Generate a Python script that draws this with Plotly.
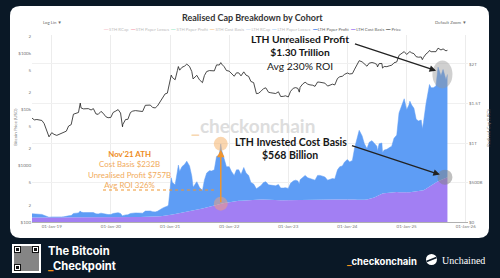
import plotly.graph_objects as go

# ---------------- data ----------------
dates = [
    "2018-09-01", "2018-09-15", "2018-10-01", "2018-10-15", "2018-11-01", "2018-11-15", "2018-12-01", "2018-12-15",
    "2019-01-01", "2019-01-15", "2019-02-01", "2019-02-15", "2019-03-01", "2019-03-15", "2019-04-01", "2019-04-15",
    "2019-05-01", "2019-05-15", "2019-06-01", "2019-06-15", "2019-06-26", "2019-07-01", "2019-07-15", "2019-08-01",
    "2019-08-15", "2019-09-01", "2019-09-15", "2019-10-01", "2019-10-15", "2019-11-01", "2019-11-15", "2019-12-01", "2019-12-15",
    "2020-01-01", "2020-01-15", "2020-02-01", "2020-02-15", "2020-03-01", "2020-03-13", "2020-03-15", "2020-04-01",
    "2020-04-15", "2020-05-01", "2020-05-15", "2020-06-01", "2020-06-15", "2020-07-01", "2020-07-15", "2020-08-01",
    "2020-08-15", "2020-09-01", "2020-09-15", "2020-10-01", "2020-10-15", "2020-11-01", "2020-11-15", "2020-12-01",
    "2020-12-15", "2020-12-22",
    "2021-01-01", "2021-01-08", "2021-01-15", "2021-02-01", "2021-02-15", "2021-02-21", "2021-03-01", "2021-03-15",
    "2021-04-01", "2021-04-14", "2021-05-01", "2021-05-15", "2021-05-23", "2021-06-01", "2021-06-15", "2021-07-01",
    "2021-07-20", "2021-08-01", "2021-08-15", "2021-09-01", "2021-09-15", "2021-10-01", "2021-10-15", "2021-11-01",
    "2021-11-10", "2021-11-15", "2021-12-01", "2021-12-15",
    "2022-01-01", "2022-01-15", "2022-02-01", "2022-02-15", "2022-03-01", "2022-03-15", "2022-04-01", "2022-04-15",
    "2022-05-01", "2022-05-15", "2022-06-01", "2022-06-18", "2022-07-01", "2022-07-15", "2022-08-01", "2022-08-15",
    "2022-09-01", "2022-09-15", "2022-10-01", "2022-10-15", "2022-11-01", "2022-11-15", "2022-12-01", "2022-12-15",
    "2023-01-01", "2023-01-15", "2023-02-01", "2023-02-15", "2023-03-01", "2023-03-10", "2023-03-15", "2023-04-01",
    "2023-04-15", "2023-05-01", "2023-05-15", "2023-06-01", "2023-06-15", "2023-07-01", "2023-07-15", "2023-08-01",
    "2023-08-15", "2023-09-01", "2023-09-15", "2023-10-01", "2023-10-15", "2023-11-01", "2023-11-15", "2023-12-01", "2023-12-15",
    "2024-01-01", "2024-01-15", "2024-02-01", "2024-02-15", "2024-03-01", "2024-03-14", "2024-04-01", "2024-04-15",
    "2024-05-01", "2024-05-15", "2024-06-01", "2024-06-15", "2024-07-01", "2024-07-05", "2024-07-15", "2024-08-01",
    "2024-08-05", "2024-08-15", "2024-09-01", "2024-09-15", "2024-10-01", "2024-10-15", "2024-11-01", "2024-11-15",
    "2024-12-01", "2024-12-17",
    "2025-01-01", "2025-01-15", "2025-01-21", "2025-02-01", "2025-02-15", "2025-03-01", "2025-03-15", "2025-04-01",
    "2025-04-08", "2025-04-15", "2025-05-01", "2025-05-15", "2025-05-22", "2025-06-01", "2025-06-15", "2025-07-01",
    "2025-07-14", "2025-08-01", "2025-08-14", "2025-09-01", "2025-09-10",
]

btc_price = [
    7000, 6500, 6600, 6400, 6350, 5600, 4100, 3250,
    3850, 3600, 3450, 3600, 3820, 3900, 4100, 5050, 5350, 8200, 8550, 8800, 12900, 10600, 10200, 10400, 10300, 9750,
    10300, 8300, 8150, 9200, 8500, 7400, 7100,
    7200, 8800, 9350, 9900, 8600, 4900, 5400, 6600, 6650, 8800, 9300, 9500, 9450, 9200, 9150, 11800, 11900, 11900,
    10800, 10600, 11500, 13750, 15950, 18800, 19400, 23800,
    29400, 40500, 36800, 33500, 48700, 57500, 49600, 55600, 58700, 63500, 57800, 46800, 34700, 36700, 40200, 33500,
    29800, 39900, 47000, 48800, 48100, 48200, 61600, 61300, 67500, 63800, 57200, 48900,
    47700, 43100, 38700, 44500, 44400, 39300, 46300, 40500, 38500, 31300, 29800, 19000, 19300, 20800, 23300, 24100,
    20100, 19700, 19300, 19100, 20500, 16900, 17000, 17400,
    16600, 20900, 23700, 24300, 23600, 20200, 24700, 28400, 30300, 28000, 27200, 26800, 25600, 30600, 30300, 29700,
    29200, 25900, 26600, 28000, 27100, 35400, 37900, 38700, 41900,
    44200, 42500, 43100, 51800, 62400, 73100, 69700, 63400, 58300, 66200, 67800, 66200, 62700, 56700, 64800, 65300,
    54000, 57600, 57300, 59100, 60800, 67000, 69500, 91000, 97300, 106000,
    94400, 100500, 106000, 100700, 97500, 86000, 84300, 85200, 76300, 83600, 96500, 103700, 111000, 105600, 105500,
    105700, 122000, 113300, 118300, 109200, 112000,
]

# LTH cost basis + LTH paper profit (top of the blue area), USD billions
lth_total_b = [
    105, 100, 100, 98, 96, 85, 68, 60,
    64, 62, 61, 62, 64, 65, 67, 78, 82, 108, 112, 115, 140, 125, 120, 122, 120, 117, 120, 103, 102, 112, 106, 97, 94,
    95, 108, 113, 118, 108, 75, 80, 90, 91, 108, 113, 115, 114, 112, 112, 138, 140, 140, 130, 128, 136, 160, 175, 190,
    200, 215,
    430, 560, 500, 470, 640, 720, 640, 700, 730, 770, 710, 580, 440, 470, 510, 440, 400, 530, 620, 650, 645, 660, 830,
    850, 989, 910, 810, 700,
    700, 640, 590, 660, 660, 600, 690, 620, 590, 500, 480, 420, 440, 460, 500, 510, 470, 465, 460, 458, 475, 430, 430, 435,
    425, 490, 520, 530, 520, 480, 535, 560, 590, 560, 550, 545, 530, 590, 590, 580, 570, 530, 540, 550, 545, 660, 700,
    710, 760,
    790, 760, 780, 940, 1080, 1160, 1090, 990, 930, 1010, 1030, 1000, 960, 900, 990, 1000, 880, 910, 920, 940, 960,
    1060, 1100, 1380, 1480, 1560,
    1420, 1480, 1530, 1480, 1440, 1300, 1280, 1290, 1180, 1260, 1500, 1640, 1740, 1700, 1700, 1720, 1960, 1850, 1930,
    1800, 1868,
]

# LTH cost basis (purple area), USD billions
lth_cost_basis_b = [
    56, 56, 55, 55, 55, 55, 54, 54,
    54, 54, 54, 54, 54, 54, 54, 54, 54, 55, 55, 55, 56, 56, 56, 57, 57, 57, 57, 57, 57, 58, 58, 58, 58,
    58, 59, 59, 60, 60, 60, 60, 61, 61, 62, 62, 63, 63, 64, 64, 65, 66, 67, 67, 68, 69, 72, 75, 78, 82, 85,
    90, 92, 95, 100, 105, 108, 110, 115, 122, 128, 135, 142, 145, 150, 155, 163, 170, 178, 186, 195, 200, 208, 215,
    225, 232, 235, 240, 245,
    252, 258, 262, 265, 268, 270, 273, 276, 278, 280, 282, 283, 284, 285, 285, 285, 284, 284, 283, 283, 282, 276, 275, 275,
    275, 276, 277, 277, 278, 278, 278, 279, 280, 280, 280, 280, 280, 281, 281, 282, 282, 282, 283, 283, 284, 285, 286,
    287, 288,
    290, 288, 286, 284, 282, 280, 280, 282, 285, 290, 300, 310, 325, 330, 340, 355, 360, 365, 370, 372, 375, 378, 380,
    378, 375, 372,
    372, 375, 378, 380, 383, 386, 390, 395, 398, 402, 420, 440, 450, 465, 480, 500, 515, 530, 545, 555, 568,
]

assert len(dates) == len(btc_price) == len(lth_total_b) == len(lth_cost_basis_b)
lth_paper_profit_b = [t - c for t, c in zip(lth_total_b, lth_cost_basis_b)]
ath_date = "2021-11-10"
i_ath = dates.index(ath_date)

price_tick_vals = [100, 200, 500, 1000, 2000, 5000, 10000, 20000, 50000, 100000, 200000]
price_tick_text = ["$100", "2", "5", "$1000", "2", "5", "$10k", "2", "5", "$100k", "2"]
rcap_tick_vals = [0, 500, 1000, 1500, 2000]
rcap_tick_text = ["$0", "$500B", "$1T", "$1.5T", "$2T"]

legend_names = ["STH RCap", "STH Paper Losses", "STH Paper Profit", "STH Cost Basis", "LTH RCap",
                "LTH Paper Losses", "LTH Paper Profit", "LTH Cost Basis", "Price"]
legend_colors = ["#f7b3c2", "#f27a93", "#7fe3b8", "#f6b25a", "#b9d6f6",
                 "#8fc0f5", "#3f7ff0", "#9c6ff2", "#555555"]
legend_active = [False, False, False, False, False, False, True, True, True]

# ---------------- styling ----------------
BG = "#0a1826"
BLUE = "#5e9df5"
PURPLE = "#a27ff3"
ORANGE = "#f0952e"
FONT = "Lato, 'Open Sans', sans-serif"

L, R, T, B = 32, 468, 35, 222


def px(X):
    return (X - L) / (R - L)


def py(Y):
    return (B - Y) / (B - T)


def rounded_rect(x0, y0, x1, y1, r):
    pts = [
        ("M", [(x0 + r, y0)]), ("L", [(x1 - r, y0)]), ("Q", [(x1, y0), (x1, y0 + r)]),
        ("L", [(x1, y1 - r)]), ("Q", [(x1, y1), (x1 - r, y1)]), ("L", [(x0 + r, y1)]),
        ("Q", [(x0, y1), (x0, y1 - r)]), ("L", [(x0, y0 + r)]), ("Q", [(x0, y0), (x0 + r, y0)]),
    ]
    s = ""
    for cmd, ps in pts:
        s += cmd + " " + " ".join(f"{px(a):.5f},{py(b):.5f}" for a, b in ps) + " "
    return s + "Z"


fig = go.Figure()
fig.add_trace(go.Scatter(
    x=dates, y=lth_cost_basis_b, name="LTH Cost Basis", yaxis="y2", stackgroup="lth",
    mode="lines", line=dict(width=0, color=PURPLE), fillcolor=PURPLE,
))
fig.add_trace(go.Scatter(
    x=dates, y=lth_paper_profit_b, name="LTH Paper Profit", yaxis="y2", stackgroup="lth",
    mode="lines", line=dict(width=0.5, color=BLUE), fillcolor=BLUE,
))
fig.add_trace(go.Scatter(
    x=dates, y=btc_price, name="Price", yaxis="y", mode="lines",
    line=dict(color="#1c1c1c", width=0.8),
))

shapes = []
# card
shapes.append(dict(type="path", xref="paper", yref="paper", path=rounded_rect(10, 6, 489, 238, 10),
                   fillcolor="white", line=dict(width=0), layer="below"))
# highlight circles
shapes.append(dict(type="circle", xref="x", yref="y2", xsizemode="pixel", ysizemode="pixel",
                   xanchor=dates[-1], yanchor=lth_total_b[-1], x0=-15, x1=5, y0=-14, y1=14,
                   fillcolor="rgba(150,150,150,0.45)", line=dict(width=0), layer="above"))
shapes.append(dict(type="circle", xref="x", yref="y2", xsizemode="pixel", ysizemode="pixel",
                   xanchor=dates[-1], yanchor=lth_cost_basis_b[-1], x0=-10, x1=5, y0=-7.5, y1=7.5,
                   fillcolor="rgba(130,130,130,0.5)", line=dict(width=0), layer="above"))
shapes.append(dict(type="circle", xref="x", yref="y2", xsizemode="pixel", ysizemode="pixel",
                   xanchor=ath_date, yanchor=lth_total_b[i_ath], x0=-7, x1=7, y0=-7, y1=7,
                   fillcolor="rgba(246,180,110,0.55)", line=dict(width=0), layer="above"))
shapes.append(dict(type="circle", xref="x", yref="y2", xsizemode="pixel", ysizemode="pixel",
                   xanchor=ath_date, yanchor=lth_cost_basis_b[i_ath], x0=-7, x1=7, y0=-7, y1=7,
                   fillcolor="rgba(246,160,120,0.5)", line=dict(width=0), layer="above"))
# orange dotted connector
shapes.append(dict(type="line", xref="paper", yref="paper", x0=px(103), x1=px(217), y0=py(190), y1=py(190),
                   line=dict(color=ORANGE, width=1, dash="dot"), layer="above"))
# QR code block
shapes.append(dict(type="rect", xref="paper", yref="paper", x0=px(12), x1=px(41), y0=py(273), y1=py(244),
                   fillcolor="white", line=dict(width=0)))
shapes.append(dict(type="rect", xref="paper", yref="paper", x0=px(14), x1=px(39), y0=py(271), y1=py(246),
                   fillcolor="#858585", line=dict(width=0)))
for qx, qy in [(14, 246), (32, 246), (14, 264)]:
    shapes.append(dict(type="rect", xref="paper", yref="paper", x0=px(qx), x1=px(qx + 7), y0=py(qy + 7), y1=py(qy),
                       fillcolor="#111", line=dict(width=0)))
    shapes.append(dict(type="rect", xref="paper", yref="paper", x0=px(qx + 1), x1=px(qx + 6), y0=py(qy + 6), y1=py(qy + 1),
                       fillcolor="white", line=dict(width=0)))
    shapes.append(dict(type="rect", xref="paper", yref="paper", x0=px(qx + 2), x1=px(qx + 5), y0=py(qy + 5), y1=py(qy + 2),
                       fillcolor="#111", line=dict(width=0)))
# Unchained icon
shapes.append(dict(type="circle", xref="paper", yref="paper", x0=px(426), x1=px(437), y0=py(265), y1=py(254),
                   fillcolor="white", line=dict(width=0)))
shapes.append(dict(type="line", xref="paper", yref="paper", x0=px(426.5), x1=px(436.5), y0=py(261.5), y1=py(257.5),
                   line=dict(color=BG, width=1.6)))

ann = []


def text(X, Y, s, size, color, bold=False, xanchor="center", family=FONT, angle=0, align="center"):
    ann.append(dict(xref="paper", yref="paper", x=px(X), y=py(Y), text=f"<b>{s}</b>" if bold else s,
                    showarrow=False, xanchor=xanchor, yanchor="middle", textangle=angle, align=align,
                    font=dict(size=size, color=color, family=family)))


# title & controls
text(252, 17, "Realised Cap Breakdown by Cohort", 9, "#333333", bold=True)
text(41, 23, "Log Lin \u25BC", 4.3, "#666666", xanchor="left")
text(468, 23, "Default Zoom \u25BC", 4.3, "#666666", xanchor="right")

# legend built from legend arrays
parts = []
for n, c, a in zip(legend_names, legend_colors, legend_active):
    tc = "#666666" if a else "#bdbdbd"
    op = "" if a else ";opacity:0.6"
    parts.append(f"<span style='color:{c}{op}'>\u2501\u2501</span>\u00a0<span style='color:{tc}'>{n}</span>")
text(252, 30, "\u00a0\u00a0".join(parts), 4.3, "#666666")

# axis titles
text(15, 128, "Bitcoin Price (USD)", 4.5, "#777777", angle=-90)
text(488, 128, "Realised Cap (USD)", 4.5, "#777777", angle=-90)

# watermark
text(253, 126, "<span style='color:#f7d8b2'>_</span>checkonchain", 19, "#dddddd", bold=True)

# callouts
text(300, 52, "<b>LTH Unrealised Profit</b><br><b>$1.30 Trillion</b><br>Avg 230% ROI", 10.3, "#161616")
text(291, 142, "<b>LTH Invested Cost Basis</b>", 10.5, "#161616")
text(290, 155, "<b>$568 Billion</b>", 10.5, "#161616")
text(129, 169.5, "<span style='color:#ee8c22'><b>Nov'21 ATH</b></span><br>Cost Basis $232B<br>"
     "Unrealised Profit $757B<br>Avg ROI 326%", 7.9, "#f1ab5c")

# footer
text(46, 258.5, "<b>The Bitcoin</b><br><b><span style='color:#f7931a'>_</span>Checkpoint</b>", 11.2, "white",
     xanchor="left", family="Inter, sans-serif", align="left")
text(382, 261, "<span style='color:#f7931a'>_</span>checkonchain", 9.5, "white", bold=True,
     family="Inter, sans-serif")
text(440, 260, "Unchained", 10, "white", xanchor="left", family="'Liberation Serif', serif")

# arrows anchored on data
ann.append(dict(xref="x", yref="y2", x=dates[-1], y=lth_total_b[-1], ax=-94, ay=-31, text="",
                showarrow=True, arrowhead=2, arrowsize=1, arrowwidth=1.3, arrowcolor="#222222", standoff=12))
ann.append(dict(xref="x", yref="y2", x=dates[-1], y=lth_cost_basis_b[-1], ax=-97, ay=-32, text="",
                showarrow=True, arrowhead=2, arrowsize=1, arrowwidth=1.3, arrowcolor="#222222", standoff=8))
ann.append(dict(xref="x", yref="y2", x=ath_date, y=lth_total_b[i_ath], axref="x", ayref="y2",
                ax=ath_date, ay=lth_cost_basis_b[i_ath], text="", showarrow=True, arrowhead=2,
                arrowsize=1, arrowwidth=1.5, arrowcolor=ORANGE, standoff=6))

tickfont = dict(size=4.5, color="#777777", family=FONT)
fig.update_layout(
    width=500, height=278, autosize=False,
    margin=dict(l=L, r=500 - R, t=T, b=278 - B, pad=0),
    paper_bgcolor=BG, plot_bgcolor="rgba(0,0,0,0)",
    showlegend=False,
    font=dict(family=FONT),
    xaxis=dict(type="date", range=["2018-09-01", "2026-01-15"], tick0="2019-01-01", dtick="M12",
               tickformat="%d-%b-%y", tickfont=tickfont, showgrid=True, gridcolor="#ececec", gridwidth=0.6,
               showline=True, linecolor="#b0b0b0", linewidth=0.8, zeroline=False, ticks=""),
    yaxis=dict(type="log", range=[2, 5.32], tickvals=price_tick_vals, ticktext=price_tick_text,
               tickfont=tickfont, showgrid=False, zeroline=False, ticks=""),
    yaxis2=dict(overlaying="y", side="right", range=[0, 2367], tickvals=rcap_tick_vals, ticktext=rcap_tick_text,
                tickfont=tickfont, showgrid=True, gridcolor="#f0f0f0", gridwidth=0.6, zeroline=False, ticks=""),
    shapes=shapes, annotations=ann,
)

fig.write_html("out.html", include_plotlyjs=True, config={"displayModeBar": False})
